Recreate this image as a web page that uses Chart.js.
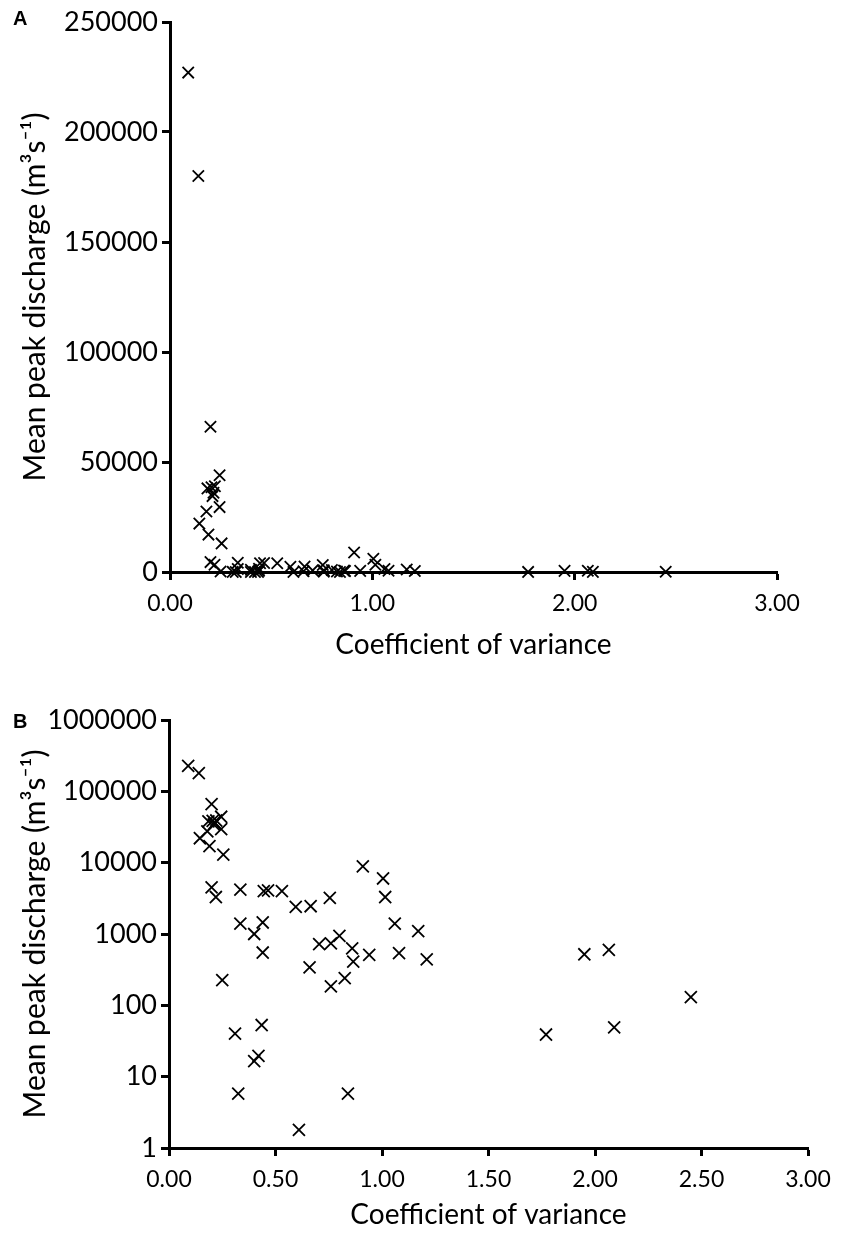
<!DOCTYPE html>
<html>
<head>
<meta charset="utf-8">
<script src="https://cdn.jsdelivr.net/npm/chart.js@4.4.0/dist/chart.umd.min.js"></script>
<style>
  body { margin: 0; background: #fff; }
  #page { position: relative; width: 843px; height: 1236px; }
  .panel { position: absolute; left: 0; }
  .letter { position: absolute; left: 13px; font: bold 20px "Liberation Sans", Arial, sans-serif; color: #000; }
</style>
</head>
<body>
<div id="page">
  <canvas id="chartA" class="panel" width="843" height="680" style="top:0"></canvas>
  <canvas id="chartB" class="panel" width="843" height="546" style="top:690px"></canvas>
  <div class="letter" style="top:7px">A</div>
  <div class="letter" style="top:710px">B</div>
</div>
<script>
// coefficient of variance vs mean peak discharge, one entry per site
const cv = [
  0.09, 0.14, 0.20, 0.245, 0.185, 0.205, 0.222, 0.215, 0.21, 0.18,
  0.245, 0.145, 0.19, 0.255, 0.20, 0.22, 0.335, 0.445, 0.465, 0.53,
  0.595, 0.665, 0.755, 0.91, 1.005, 1.015, 1.06, 1.17, 0.335, 0.40,
  0.44, 0.44, 0.25, 0.705, 0.76, 0.80, 0.86, 0.865, 0.94, 1.08,
  1.21, 0.66, 0.825, 0.76, 0.31, 0.435, 0.40, 0.42, 0.325, 0.61,
  0.84, 1.95, 2.065, 2.45, 1.77, 2.09
];
const discharge = [
  227000, 180000, 66000, 44000, 38000, 38500, 39000, 36000, 34500, 27500,
  29500, 22000, 17000, 13000, 4500, 3300, 4200, 4000, 4100, 4000,
  2400, 2450, 3200, 8900, 6000, 3300, 1400, 1100, 1400, 1000,
  1450, 550, 225, 720, 740, 940, 630, 410, 510, 540,
  440, 340, 240, 185, 40, 53, 16.5, 19.5, 5.8, 1.8,
  5.8, 520, 600, 130, 39, 49
];

const xTicksA = [0, 1, 2, 3];
const xTicksB = [0, 0.5, 1, 1.5, 2, 2.5, 3];
const yTicksA = [0, 50000, 100000, 150000, 200000, 250000];
const yTicksB = [1, 10, 100, 1000, 10000, 100000, 1000000];

const points = cv.map((x, i) => ({ x: x, y: discharge[i] }));

Chart.defaults.color = '#000';
Chart.defaults.font.family = 'Lato, "Open Sans", sans-serif';

const axisLine = {
  grid: { drawOnChartArea: false, drawTicks: true, tickLength: 8, tickWidth: 3, tickColor: '#000' },
  border: { display: true, color: '#000', width: 3 }
};

function makePanel(id, cfg) {
  return new Chart(document.getElementById(id), {
    type: 'scatter',
    data: {
      datasets: [{
        data: points,
        pointStyle: 'crossRot',
        pointRadius: cfg.markerSize,
        pointHoverRadius: cfg.markerSize,
        pointBorderWidth: 1.8,
        borderColor: '#000',
        backgroundColor: '#000',
        clip: false
      }]
    },
    options: {
      responsive: false,
      animation: false,
      layout: { padding: { left: 0, top: cfg.padTop, right: cfg.padRight, bottom: 0 } },
      plugins: { legend: { display: false }, tooltip: { enabled: false } },
      scales: {
        x: {
          type: 'linear',
          min: 0,
          max: 3,
          ...axisLine,
          afterBuildTicks: scale => { scale.ticks = cfg.xTicks.map(v => ({ value: v })); },
          afterFit: scale => { scale.height = cfg.xAxisHeight; },
          ticks: {
            padding: 10,
            font: { size: 23 },
            callback: v => Number(v).toFixed(2)
          },
          title: {
            display: true,
            text: 'Coefficient of variance',
            font: { size: 28 },
            padding: { top: 0, bottom: cfg.xTitlePad }
          }
        },
        y: {
          type: cfg.yType,
          min: cfg.yMin,
          max: cfg.yMax,
          ...axisLine,
          afterBuildTicks: scale => { scale.ticks = cfg.yTicks.map(v => ({ value: v })); },
          afterFit: scale => { scale.width = cfg.yAxisWidth; },
          ticks: {
            padding: 4,
            font: { size: 27 },
            callback: v => String(v)
          },
          title: {
            display: true,
            text: 'Mean peak discharge (m³s⁻¹)',
            font: { size: 30 },
            padding: { top: 17, bottom: 0 }
          }
        }
      }
    }
  });
}

makePanel('chartA', {
  yType: 'linear', yMin: 0, yMax: 250000, yTicks: yTicksA, xTicks: xTicksA,
  padTop: 22, padRight: 66, xAxisHeight: 108, yAxisWidth: 170, xTitlePad: 18, markerSize: 8
});

makePanel('chartB', {
  yType: 'logarithmic', yMin: 1, yMax: 1000000, yTicks: yTicksB, xTicks: xTicksB,
  padTop: 30, padRight: 35, xAxisHeight: 88, yAxisWidth: 169, xTitlePad: 4, markerSize: 8.5
});
</script>
</body>
</html>
